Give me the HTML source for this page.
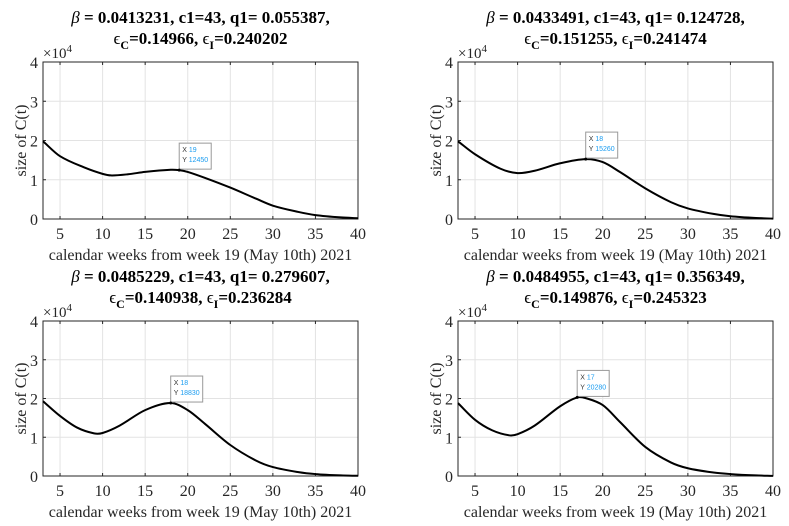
<!DOCTYPE html>
<html><head><meta charset="utf-8"><style>
body{margin:0;background:#fff;}
svg{display:block;font-family:"Liberation Serif",serif;}
</style></head><body>
<svg id="c" width="789" height="526" viewBox="0 0 789 526"></svg>
<script>
const weeks=[3,5,8,10,11,13,15,18,19,20,22,25,28,30,33,35,38,40];
const series1=[19800,16000,13000,11500,11100,11400,12000,12550,12450,12000,10500,8000,5200,3400,1800,1000,400,200];
const weeks2=[3,5,8,10,12,15,18,20,22,25,28,30,33,35,38,40];
const series2=[19800,16500,12800,11700,12300,14200,15260,14500,12000,7800,4300,2700,1300,700,250,100];
const weeks3=[3,5,7,9,10,12,15,18,20,22,25,28,30,33,35,38,40];
const series3=[19300,15500,12500,11000,11100,13000,17000,18830,17000,13500,8000,4000,2300,1000,500,150,50];
const weeks4=[3,5,7,9,10,12,15,17,18,20,22,25,28,30,33,35,38,40];
const series4=[18800,14500,11800,10500,10800,13000,18000,20280,20100,18300,14000,7500,3500,2000,900,500,150,30];
const xTicks=[5,10,15,20,25,30,35,40];
const yTicks=[0,1,2,3,4];
const titles1=["0.0413231","0.055387","0.14966","0.240202"];
const titles2=["0.0433491","0.124728","0.151255","0.241474"];
const titles3=["0.0485229","0.279607","0.140938","0.236284"];
const titles4=["0.0484955","0.356349","0.149876","0.245323"];
const tipX=[19,18,18,17];
const tipY=[12450,15260,18830,20280];

const svg=document.getElementById('c');
const NS='http://www.w3.org/2000/svg';
function mk(t,a,p){const e=document.createElementNS(NS,t);for(const k in a)e.setAttribute(k,a[k]);(p||svg).appendChild(e);return e;}
const panels=[
 {x0:43,x1:358,y0:62,y1:219,wx:weeks,v:series1,t:titles1,ty:0},
 {x0:458,x1:773,y0:62,y1:219,wx:weeks2,v:series2,t:titles2,ty:0},
 {x0:43,x1:358,y0:321,y1:476,wx:weeks3,v:series3,t:titles3,ty:259},
 {x0:458,x1:773,y0:321,y1:476,wx:weeks4,v:series4,t:titles4,ty:259}];
panels.forEach((p,i)=>{
 const g=mk('g',{});
 
 
 const sx=v=>p.x0+(v-3)/(40-3)*(p.x1-p.x0);
 const sy=v=>p.y1-v/40000*(p.y1-p.y0);
 const cx=(p.x0+p.x1)/2;
 xTicks.forEach(t=>{const l=mk('line',{x1:sx(t),x2:sx(t),y1:p.y0,y2:p.y1,stroke:'#e3e3e3','stroke-width':1},g);});
 yTicks.forEach(t=>{const l=mk('line',{x1:p.x0,x2:p.x1,y1:sy(t*10000),y2:sy(t*10000),stroke:'#e3e3e3','stroke-width':1},g);});
 const box=mk('rect',{x:p.x0,y:p.y0,width:p.x1-p.x0,height:p.y1-p.y0,fill:'none',stroke:'#262626','stroke-width':1},g);
 
 xTicks.forEach(t=>{
  mk('line',{x1:sx(t),x2:sx(t),y1:p.y1,y2:p.y1-3,stroke:'#262626'},g);
  mk('line',{x1:sx(t),x2:sx(t),y1:p.y0,y2:p.y0+3,stroke:'#262626'},g);
  const tx=mk('text',{x:sx(t),y:p.y1+20,'font-size':16,'text-anchor':'middle',fill:'#262626'},g);tx.textContent=t;
  
 });
 yTicks.forEach(t=>{
  mk('line',{x1:p.x0,x2:p.x0+3,y1:sy(t*10000),y2:sy(t*10000),stroke:'#262626'},g);
  const tx=mk('text',{x:p.x0-5,y:sy(t*10000)+6,'font-size':16,'text-anchor':'end',fill:'#262626'},g);tx.textContent=t;
  
 });
 const ex=mk('text',{x:p.x0,y:p.y0-4,'font-size':15,fill:'#262626'},g);
 ex.innerHTML='×10<tspan dy="-6" font-size="11">4</tspan>';
 
 const xl=mk('text',{x:cx,y:p.y1+41,'font-size':16,'text-anchor':'middle',fill:'#262626'},g);
 xl.textContent='calendar weeks from week 19 (May 10th) 2021';
 
 const yl=mk('text',{x:0,y:0,'font-size':16,'text-anchor':'middle',fill:'#262626',transform:`translate(${p.x0-17},${(p.y0+p.y1)/2}) rotate(-90)`},g);
 yl.textContent='size of C(t)';
 
 const t1=mk('text',{x:cx,y:p.ty+23,'font-size':17,'font-weight':'bold','text-anchor':'middle',fill:'#000'},g);
 t1.innerHTML=`<tspan font-style="italic" font-weight="normal">β</tspan> = ${p.t[0]}, c1=43, q1= ${p.t[1]},`;
 
 const t2=mk('text',{x:cx,y:p.ty+44,'font-size':17,'font-weight':'bold','text-anchor':'middle',fill:'#000'},g);
 t2.innerHTML=`<tspan font-weight="normal">ϵ</tspan><tspan dy="5" font-size="12">C</tspan><tspan dy="-5">=${p.t[2]}, </tspan><tspan font-weight="normal">ϵ</tspan><tspan dy="5" font-size="12">I</tspan><tspan dy="-5">=${p.t[3]}</tspan>`;
 
 // hermite curve in data space
 const X=p.wx,Y=p.v,n=X.length;
 const m=X.map((x,k)=>{
  if(k===0)return (Y[1]-Y[0])/(X[1]-X[0]);
  if(k===n-1)return (Y[n-1]-Y[n-2])/(X[n-1]-X[n-2]);
  return (Y[k+1]-Y[k-1])/(X[k+1]-X[k-1]);
 });
 let d=`M${sx(X[0])},${sy(Y[0])}`;
 for(let k=0;k<n-1;k++){
  const h=(X[k+1]-X[k])/3;
  d+=` C${sx(X[k]+h)},${sy(Y[k]+m[k]*h)} ${sx(X[k+1]-h)},${sy(Y[k+1]-m[k+1]*h)} ${sx(X[k+1])},${sy(Y[k+1])}`;
 }
 const line=mk('path',{d:d,fill:'none',stroke:'#000','stroke-width':2},g);
 
 const px=sx(tipX[i]),py=sy(tipY[i]);
 const tg=mk('g',{},g);
 
 mk('rect',{x:px,y:py-27,width:32,height:26,fill:'#fff',stroke:'#999','stroke-width':1},tg);
 const a=mk('text',{x:px+3,y:py-18,'font-size':7,'font-family':'Liberation Sans, sans-serif',fill:'#333'},tg);
 a.innerHTML=`X <tspan fill="#1a9cf0">${tipX[i]}</tspan>`;
 const b=mk('text',{x:px+3,y:py-8,'font-size':7,'font-family':'Liberation Sans, sans-serif',fill:'#333'},tg);
 b.innerHTML=`Y <tspan fill="#1a9cf0">${tipY[i]}</tspan>`;
 mk('circle',{cx:px,cy:py,r:1.5,fill:'#000'},tg);
});
</script>
</body></html>
